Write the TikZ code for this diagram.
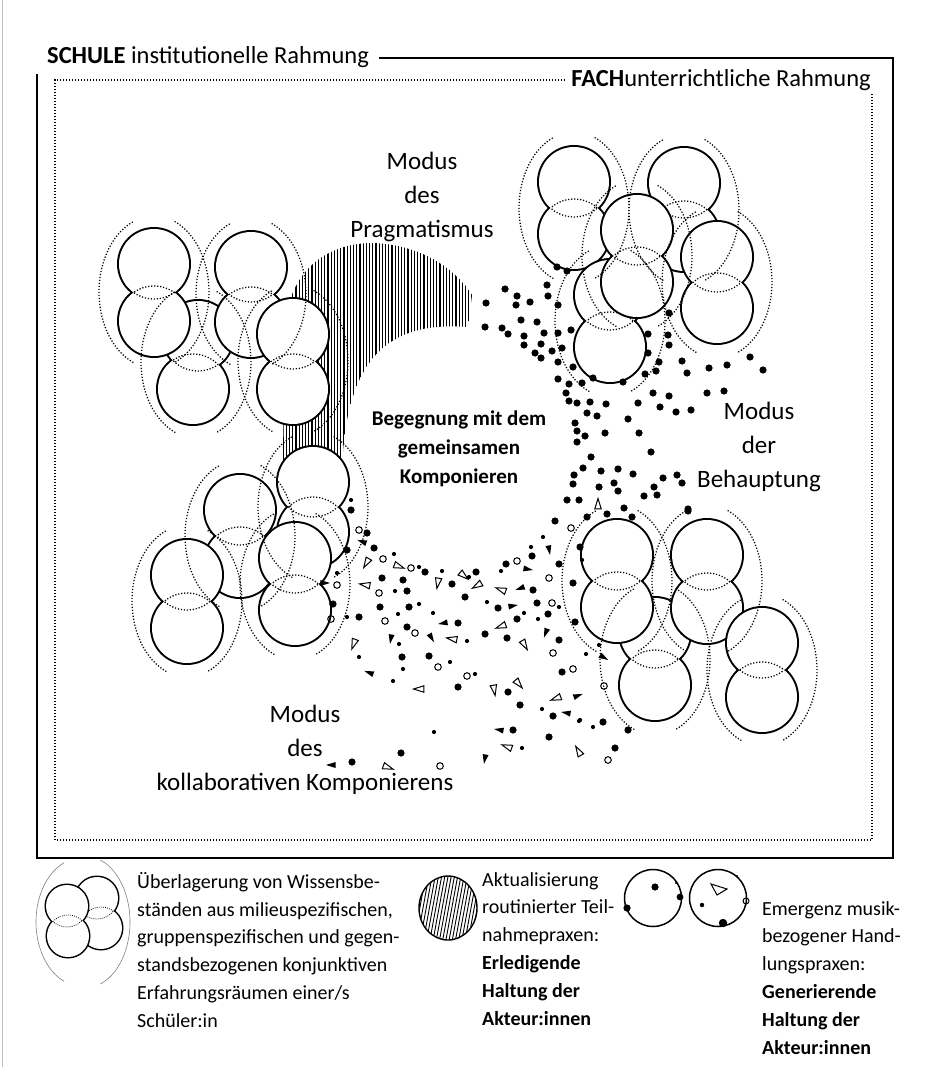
\documentclass[tikz,border=0pt]{standalone}
\usepackage{fontspec}
\setmainfont{Carlito}
\usetikzlibrary{calc}
\tikzset{
  dotline/.style={line width=1.25pt, dash pattern=on 1.2pt off 1.8pt},
  modlabel/.style={align=center, inner sep=0pt, font=\fontsize{25}{34}\selectfont},
  legtext/.style={align=left, inner sep=0pt, anchor=north west, font=\fontsize{20}{27.8}\selectfont},
  hollowmark/.style={line width=1pt},
  framelbl/.style={inner sep=0pt, font=\fontsize{24.5}{28}\selectfont},
}
\newcommand\stugroup[3]{%
  \foreach \xa/\ya in {#3}{\draw[line width=#2] (\xa,\ya) circle (#1);}%
  \foreach \xa/\ya in {#3}{\fill[white] (\xa,\ya) circle (#1);}%
  \foreach \xa/\ya in {#3}{\foreach \xb/\yb in {#3}{%
    \pgfmathtruncatemacro\same{(abs(\xa-\xb)+abs(\ya-\yb))<0.5}%
    \ifnum\same=0 \begin{scope}\clip (\xb,\yb) circle (#1);\draw[dotline] (\xa,\ya) circle (#1);\end{scope}\fi}}%
}
\newcommand\sidearcs[2]{%
  \draw[dotline] (#1,#2) ++(112:55 and 76) arc (112:248:55 and 76);
  \draw[dotline] (#1,#2) ++(-68:55 and 76) arc (-68:68:55 and 76);
}
\begin{document}
\begin{tikzpicture}[x=1pt,y=-1pt]
\useasboundingbox (0,0) rectangle (933,1067);
\fill[white] (0,0) rectangle (933,1067);
\draw[gray!50, line width=1] (2,0) -- (2,1067);

% hatched area
\begin{scope}
\clip (283,472) -- (284,330) .. controls (290,262) and (335,243) .. (373,243) .. controls (425,245) and (458,272) .. (472,295) -- (468,327) .. controls (400,322) and (345,345) .. (342,472) -- cycle;
\foreach \x in {280,283.2,...,478} \draw[line width=1.3] (\x,238) -- (\x,476);
\end{scope}

% top-left cluster
\stugroup{35}{4}{198/336,193/389}
\stugroup{35}{4}{154/264,154/321}
\stugroup{35}{4}{251/267,251/322}
\stugroup{35}{4}{293/334,293/389}
% top-right cluster
\stugroup{35}{4}{574/182,574/234}
\stugroup{35}{4}{684/183,684/236}
\stugroup{35}{4}{610/295,610/347}
\stugroup{35}{4}{637/230,637/282}
\stugroup{35}{4}{717/257,717/308}
% bottom-left cluster
\stugroup{35}{4}{313/482,313/532}
\stugroup{35}{4}{240/510,240/562}
\stugroup{35}{4}{187/575,187/628}
\stugroup{35}{4}{295/558,295/610}
% bottom-right cluster
\stugroup{35}{4}{655/633,655/685}
\stugroup{35}{4}{617/555,617/607}
\stugroup{35}{4}{707/555,707/608}
\stugroup{35}{4}{762/643,762/697}

% surrounding dotted arcs
\sidearcs{196}{362}\sidearcs{154}{292}\sidearcs{251}{294}\sidearcs{293}{361}
\sidearcs{574}{208}\sidearcs{684}{210}\sidearcs{610}{321}\sidearcs{637}{256}\sidearcs{717}{282}
\sidearcs{313}{507}\sidearcs{240}{536}\sidearcs{187}{601}\sidearcs{295}{584}
\sidearcs{655}{659}\sidearcs{617}{581}\sidearcs{707}{581}\sidearcs{762}{670}

% dots
\foreach \x/\y in {557/267,567/271,547/285,505/289,517/296,548/296,486/303,516/305,530/302,558/305,521/320,537/322,485/327,502/328,508/334,524/336,544/333,558/333,571/330,524/345,541/344,552/351,562/348,535/353,541/358,558/362,573/367,558/379,569/384,582/383,593/378,623/382,566/393,569/401,577/403,590/402,606/404,638/403,587/413,597/416,628/419,575/423,577/431,585/436,605/433,639/433,577/442,591/457,583/468,601/471,618/469,633/474,574/475,573/484,599/487,614/483,618/491,567/500,579/500,624/508,669/313,648/334,668/335,669/345,648/353,659/362,682/361,656/371,645/374,687/373,709/368,727/365,750/357,763/370,653/393,669/396,707/393,724/391,660/407,676/412,691/410,651/452,663/478,677/475,682/483,654/487,644/496,657/495,688/509}
  \fill (\x,\y) circle (3.6);
\foreach \x/\y in {351/510,367/533,374/548,347/550,425/572,476/572,506/564,532/556,555/521,587/517,607/514,580/547,559/564,573/583,382/578,403/580,407/591,452/584,465/597,533/590,498/608,537/603,548/614,333/604,380/607,409/607,359/617,517/619,458/623,407/627,485/634,507/638,559/640,402/657,429/656,562/672,458/687,508/692,520/705,553/716,603/722,628/730,513/730,549/737,615/748,401/753,352/762,632/517,688/511,575/622}
  \fill (\x,\y) circle (3.6);
\foreach \x/\y in {351/500,394/554,419/567,442/571,469/577,501/571,531/547,543/537,337/573,395/591,487/602,559/607,419/604,398/614,433/613,524/613,538/619,467/641,399/644,586/654,359/657,450/662,403/669,475/674,393/681,542/709,579/721,593/727,434/732,522/748,347/617,599/645,582/560,580/720}
  \fill (\x,\y) circle (2.1);
\foreach \x/\y in {359/530,383/559,411/568,517/561,571/528,549/578,337/585,379/593,552/603,385/621,415/633,553/653,438/667,467/676,573/669,604/686,608/760,440/766,331/619}
  \draw[hollowmark] (\x,\y) circle (3.3);
\foreach \x/\y/\a in {363/542/200,527/569/10,549/549/80,521/588/160,512/606/-10,444/623/170,431/637/60,546/632/110,391/638/100,603/657/30,370/673/200,577/696/-20,567/713/190,500/730/190,485/758/100,332/765/180,324/583/0}
  \fill[shift={(\x,\y)}] (\a:6) -- (\a+140:4.6) -- (\a-140:4.6) -- cycle;
\foreach \x/\y/\a in {367/562/120,398/566/20,463/575/40,598/505/-90,366/585/190,438/582/100,478/585/150,502/590/200,502/626/160,453/639/190,354/643/110,524/644/60,420/689/180,494/689/80,518/683/50,557/698/160,508/747/200,579/752/240,387/767/20}
  \draw[hollowmark, line join=miter, shift={(\x,\y)}] (\a:6.5) -- (\a+140:5) -- (\a-140:5) -- cycle;

% frames
\node[framelbl, anchor=west] (schule) at (47,57) {\textbf{SCHULE} institutionelle Rahmung};
\node[framelbl, anchor=east] (fach) at (871,80) {\textbf{FACH}unterrichtliche Rahmung};
\draw[line width=1.6] ([xshift=10pt]schule.east |- 0,58) -- (893,58) -- (893,858) -- (37,858) -- (37,74);
\draw[dotline] ([xshift=-6pt]fach.west) -- (55,80) -- (55,840) -- (872,840) -- (872,93);

% labels
\node[modlabel] (prag) at (422,197) {Modus\\des\\Pragmatismus};
\node[modlabel] (beh) at (759,447) {Modus\\der\\Behauptung};
\node[modlabel] (koll) at (305,750) {Modus\\des\\kollaborativen Komponierens};
\node[align=center, inner sep=0pt, font=\bfseries\fontsize{21}{29}\selectfont] (beg) at (459,449) {Begegnung mit dem\\gemeinsamen\\Komponieren};

% legend glyph 1
\begin{scope}[dotline/.style={line width=0.8pt, dash pattern=on 0.8pt off 1.3pt}]
\stugroup{21}{3}{97/898,101/928}
\stugroup{21}{3}{67/906,68/936}
\draw[gray, line width=0.6] (81,922) ++(112:45 and 64) arc (112:248:45 and 64);
\draw[gray, line width=0.6] (85,922) ++(-70:45 and 66) arc (-70:70:45 and 66);
\end{scope}
\node[legtext] (leg1) at (137,872) {Überlagerung von Wissensbe-\\ständen aus milieuspezifischen,\\gruppenspezifischen und gegen-\\standsbezogenen konjunktiven\\Erfahrungsräumen einer/s\\Schüler:in};

% legend glyph 2
\begin{scope}
\clip (448,908) ellipse (29 and 32);
\foreach \x in {400,403.2,...,500} \draw[line width=0.9] (\x,946) -- (\x+14,870);
\end{scope}
\draw[line width=1.4] (448,908) ellipse (29 and 32);
\node[legtext] (leg2) at (482,872) {Aktualisierung\\routinierter Teil-\\nahmepraxen:\\\textbf{Erledigende}\\\textbf{Haltung der}\\\textbf{Akteur:innen}};

% legend glyph 3
\draw[line width=1.5] (653,898) circle (28.5);
\draw[line width=1.5] (718,898) circle (28.5);
\fill (655,887) circle (3.6);
\fill (680,897) circle (3.4);
\fill (627,908) circle (3.6);
\fill (676,883) circle (1.2);
\draw[hollowmark, line join=miter] (727,889) -- (711,884) -- (717,895) -- cycle;
\fill (702,905) circle (2.2);
\fill (723,923) circle (4.2);
\draw[hollowmark] (746,901) circle (3);
\fill (737,876) circle (1.2);
\node[legtext] (leg3) at (762,901) {Emergenz musik-\\bezogener Hand-\\lungspraxen:\\\textbf{Generierende}\\\textbf{Haltung der}\\\textbf{Akteur:innen}};
\end{tikzpicture}
\end{document}
